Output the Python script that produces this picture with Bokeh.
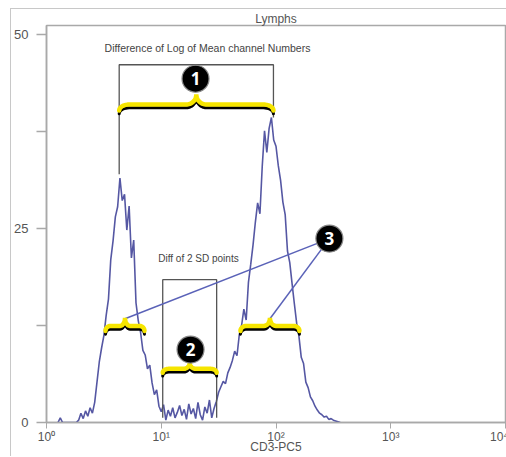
import numpy as np
from bokeh.plotting import figure
from bokeh.models import FixedTicker, CustomJSTickFormatter, Range1d
from bokeh.core.properties import value
from bokeh.embed import file_html
from bokeh.resources import INLINE

# ---------------- data ----------------
# CD3-PC5 histogram: first bin position (log10 channel) and bin width (decades)
bin_start_log = 0.10
bin_step_log = 0.02
counts = [
    0, 0.6, 0, 0, 0, 0, 0, 0, 0, 0.3,
    1.2, 0.5, 1.5, 0.8, 1.9, 1.2, 2.6, 5.2, 7.8, 9.6,
    11.2, 13.8, 15.9, 21.0, 23.4, 26.5, 27.8, 31.5, 28.6, 29.4,
    24.8, 27.9, 21.2, 23.5, 15.4, 13.1, 11.6, 9.3, 8.7, 6.9,
    7.4, 5.1, 3.6, 4.2, 2.1, 1.4, 2.3, 0.3, 1.6, 0.8,
    1.9, 0.6, 1.3, 2.2, 0.9, 1.7, 0.4, 2.4, 1.1, 1.8,
    0.5, 2.6, 1.0, 0.3, 2.0, 1.2, 2.9, 0.6, 1.8, 2.7,
    3.9, 4.6, 5.3, 5.0, 6.4, 7.1, 8.0, 9.2, 8.6, 11.3,
    12.5, 14.6, 13.2, 18.1, 20.4, 22.9, 25.8, 28.3, 26.9, 33.0,
    37.6, 34.8, 37.9, 39.3, 36.4, 35.6, 33.1, 31.2, 28.4, 26.8,
    22.1, 20.6, 17.9, 15.3, 12.8, 11.1, 8.4, 7.6, 5.2, 4.5,
    3.3, 2.8, 2.1, 1.6, 1.2, 1.0, 0.7, 0.8, 0.4, 0.5,
    0.3, 0.2, 0.1, 0,
]

# annotation values (channel numbers / counts)
mean_channels = [4.3, 95.0]
mean_line_bottoms = [32.0, 39.3]
mean_box_top = 46.1
mean_brace_level = 40.1

sd_box = [10.3, 30.4]
sd_box_top = 18.4
sd_box_bottom = 0.6
sd_brace_level = 6.3

low_peak_sd = [3.27, 7.14]
high_peak_sd = [49.0, 160.0]
peak_sd_level = 11.7

callout_labels = ["1", "2", "3"]
callout_x = [19.9, 18.0, 292.0]
callout_y = [44.3, 9.4, 23.7]

x_ticks = [1, 10, 100, 1000, 10000]
y_ticks = [0, 12.5, 25, 37.5, 50]
y_labels = {0: "0", 12.5: "", 25: "25", 37.5: "", 50: "50"}

# ---------------- figure ----------------
X_LO, X_HI = 1, 10000
Y_LO, Y_HI = 0, 51.16
FRAME_W, FRAME_H = 459, 397
PX_DEC = FRAME_W / np.log10(X_HI / X_LO)
PX_UNIT = FRAME_H / (Y_HI - Y_LO)

FONT = "Liberation Sans"
GRAY = "#a9a9a9"

p = figure(frame_width=FRAME_W, frame_height=FRAME_H, x_axis_type="log",
           x_range=Range1d(X_LO, X_HI), y_range=Range1d(Y_LO, Y_HI),
           output_backend="svg", toolbar_location=None,
           min_border_left=33, min_border_right=3, min_border_top=0,
           min_border_bottom=0, title="Lymphs",
           styles={"margin-left": "10px", "margin-top": "8px",
                   "border-left": "1px solid #c8c8c8",
                   "border-top": "1px solid #c8c8c8"})
p.title.align = "center"
p.title.text_font = FONT
p.title.text_font_size = "12px"
p.title.text_font_style = "normal"
p.title.text_color = "#555555"
p.title.standoff = 0
p.title.offset = 0

p.xgrid.visible = False
p.ygrid.visible = False
p.outline_line_color = GRAY
p.outline_line_width = 1.5
p.background_fill_color = "white"
p.border_fill_color = "white"

xa = p.xaxis[0]
xa.ticker = FixedTicker(ticks=x_ticks)
xa.formatter = CustomJSTickFormatter(code="""
const sup = ['\u2070','\u00b9','\u00b2','\u00b3','\u2074'];
return '10' + sup[Math.round(Math.log10(tick))];
""")
xa.axis_label = "CD3-PC5"
xa.axis_label_text_font = FONT
xa.axis_label_text_font_size = "12px"
xa.axis_label_text_font_style = "normal"
xa.axis_label_text_color = "#555555"
xa.axis_label_standoff = -7
xa.major_label_text_font = FONT
xa.major_label_text_font_size = "12px"
xa.major_label_text_color = "#555555"
xa.major_label_standoff = 1
xa.major_tick_out = 6
xa.major_tick_in = 0
xa.minor_tick_out = 0
xa.minor_tick_in = 0
xa.axis_line_color = GRAY
xa.major_tick_line_color = GRAY
xa.axis_line_width = 1.5

ya = p.yaxis[0]
ya.ticker = FixedTicker(ticks=y_ticks)
ya.major_label_overrides = y_labels
ya.major_label_text_font = FONT
ya.major_label_text_font_size = "13px"
ya.major_label_text_color = "#555555"
ya.major_label_standoff = 8
ya.major_tick_out = 10
ya.major_tick_in = 0
ya.minor_tick_out = 0
ya.axis_line_color = GRAY
ya.major_tick_line_color = GRAY
ya.axis_line_width = 1.5
ya.major_tick_line_width = 1.3

# histogram
xs = [10 ** (bin_start_log + bin_step_log * i) for i in range(len(counts))]
p.line(xs, counts, line_color="#2a2d8c", line_width=1.6, line_alpha=0.8)

# boxes
BOX = "#555555"
p.line([mean_channels[0], mean_channels[0], mean_channels[1], mean_channels[1]],
       [mean_line_bottoms[0], mean_box_top, mean_box_top, mean_line_bottoms[1]],
       line_color=BOX, line_width=1.3)
p.line([sd_box[0], sd_box[0], sd_box[1], sd_box[1]],
       [sd_box_bottom, sd_box_top, sd_box_top, sd_box_bottom],
       line_color=BOX, line_width=1.3)


def brace(x1, x2, y_end, r, h1, h2, dy=0.0, n=10):
    l1, l2 = np.log10(x1), np.log10(x2)
    w = (l2 - l1) * PX_DEC
    m = w / 2
    th = np.linspace(0, np.pi / 2, n)
    bx = list(r * (1 - np.cos(th))) + list(m - r + r * np.sin(th))
    by = list(h1 * np.sin(th)) + list(h1 + h2 * (1 - np.cos(th)))
    bx_full = bx + [w - v for v in reversed(bx)]
    by_full = by + list(reversed(by))
    X = [10 ** (l1 + v / PX_DEC) for v in bx_full]
    Y = [y_end + (v + dy) / PX_UNIT for v in by_full]
    return X, Y


def tip(x1, x2, y_end, h1, h2):
    return 10 ** ((np.log10(x1) + np.log10(x2)) / 2), y_end + (h1 + h2) / PX_UNIT


brace_specs = [
    (mean_channels[0], mean_channels[1], mean_brace_level, 10, 6, 10),
    (sd_box[0], sd_box[1], sd_brace_level, 6, 4, 6),
    (low_peak_sd[0], low_peak_sd[1], peak_sd_level, 5, 5, 8),
    (high_peak_sd[0], high_peak_sd[1], peak_sd_level, 6, 5, 8),
]

# connector lines for callout 3
t3a = tip(low_peak_sd[0], low_peak_sd[1], peak_sd_level, 5, 8)
t3b = tip(high_peak_sd[0], high_peak_sd[1], peak_sd_level, 5, 8)
p.segment(x0=[callout_x[2], callout_x[2]], y0=[callout_y[2], callout_y[2]],
          x1=[t3a[0], t3b[0]], y1=[t3a[1], t3b[1]],
          line_color="#5a62b8", line_width=1.5)

for (a, b, lev, r, h1, h2) in brace_specs:
    X, Y = brace(a, b, lev, r, h1, h2, dy=-2.5)
    p.line(X, Y, line_color="black", line_width=3, line_cap="round")
    X, Y = brace(a, b, lev, r, h1, h2, dy=0.8)
    p.line(X, Y, line_color="#f6e500", line_width=4.5, line_cap="round")

# callouts
p.scatter(callout_x, callout_y, size=27, fill_color="black",
          line_color="#888888", line_width=1.2)
p.text(callout_x, callout_y, text=callout_labels, text_color="white",
       text_font=value("Open Sans"), text_font_style="bold",
       text_font_size="17px", text_align="center", text_baseline="middle")

# texts
p.text([25.3], [48.3], text=["Difference of Log of Mean channel Numbers"],
       text_font=value(FONT), text_font_size="10.5px", text_color="#444444",
       text_align="center", text_baseline="middle")
p.text([21.1], [21.1], text=["Diff of 2 SD points"],
       text_font=value(FONT), text_font_size="10px", text_color="#444444",
       text_align="center", text_baseline="middle")

open("out.html", "w").write(file_html(p, INLINE))
